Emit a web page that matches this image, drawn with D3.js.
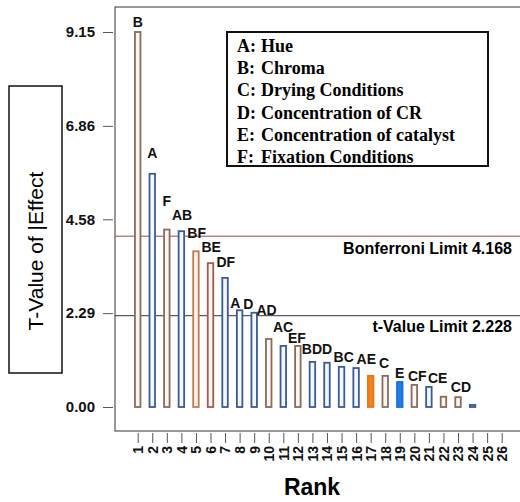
<!DOCTYPE html>
<html>
<head>
<meta charset="utf-8">
<script src="https://cdn.jsdelivr.net/npm/d3@7"></script>
<style>
  body { margin: 0; background: #fff; }
  svg { display: block; font-family: Arial, "Liberation Sans", sans-serif; }
</style>
</head>
<body>
<div id="chart"></div>
<script>
// ranks 1..24 (ticks go to 26)
const ranks = d3.range(1, 25);
const tValues = [9.15, 5.69, 4.33, 4.29, 3.80, 3.51, 3.15, 2.36, 2.30, 1.66, 1.49, 1.49,
                 1.10, 1.08, 0.98, 0.95, 0.76, 0.76, 0.61, 0.54, 0.49, 0.25, 0.24, 0.05];
// bar group: b = brown outline, u = blue outline, o = orange solid, e = blue solid
const groups = ["b","u","b","u","b2","b3","u","u","u","b","u","b",
                "u","u","u","u","o","b","e","b","u","b","b","u"];
const tickRanks = d3.range(1, 27);
const yTicks = [0, 2.29, 4.58, 6.86, 9.15];

// effect labels, placed at (rank, t-value) where they appear in the plot
const effectLabels = ["B","A","F","AB","BF","BE","DF","A","D","AD","AC","EF","BD","D","BC","AE","C","E","CF","CE","CD"];
const labelRanks   = [1, 2, 3, 4.05, 5.05, 6.05, 7.05, 7.7, 8.6, 9.85, 10.98, 11.94, 12.97, 14.0, 15.15, 16.7, 17.92, 19.0, 20.2, 21.6, 23.2];
const labelValues  = [9.39, 6.2, 5.03, 4.69, 4.25, 3.9, 3.54, 2.54, 2.51, 2.37, 1.95, 1.68, 1.42, 1.42, 1.22, 1.17, 1.07, 0.83, 0.76, 0.71, 0.49];

const factorKeys  = ["A:", "B:", "C:", "D:", "E:", "F:"];
const factorNames = ["Hue", "Chroma", "Drying Conditions", "Concentration of CR", "Concentration of catalyst", "Fixation Conditions"];

const bonferroni = 4.168;
const tLimit = 2.228;

const width = 520, height = 502;
const frame = { left: 115, top: 7, right: 530, bottom: 431 };

const svg = d3.select("#chart")
    .append("svg")
    .attr("width", width)
    .attr("height", height);

const x = d3.scalePoint()
    .domain(tickRanks)
    .range([137.7, 501.7]);

const y = d3.scaleLinear()
    .domain([0, 9.15])
    .range([407, 32]);

const colors = {
    b:  { stroke: "#8a6b5c", fill: "#fbf7f3" },
    b2: { stroke: "#c07d55", fill: "#fbf3ec" },
    b3: { stroke: "#9c5e50", fill: "#fbf5f2" },
    u:  { stroke: "#3a5a9a", fill: "#f5f8fd" },
    o:  { stroke: "#e9751a", fill: "#f5821f" },
    e:  { stroke: "#1c6fd6", fill: "#1f7fe8" }
};

// frame
svg.append("rect")
    .attr("x", frame.left)
    .attr("y", frame.top)
    .attr("width", frame.right - frame.left)
    .attr("height", frame.bottom - frame.top)
    .attr("fill", "none")
    .attr("stroke", "#333")
    .attr("stroke-width", 1);

// limit lines
svg.append("line")
    .attr("x1", frame.left).attr("x2", width)
    .attr("y1", y(bonferroni)).attr("y2", y(bonferroni))
    .attr("stroke", "#9a4848").attr("stroke-width", 1);

svg.append("line")
    .attr("x1", frame.left).attr("x2", width)
    .attr("y1", y(tLimit)).attr("y2", y(tLimit))
    .attr("stroke", "#333").attr("stroke-width", 1);

svg.append("text")
    .attr("x", 512).attr("y", y(bonferroni) + 18)
    .attr("text-anchor", "end")
    .style("font-size", "16px").style("font-weight", "bold")
    .text("Bonferroni Limit " + bonferroni);

svg.append("text")
    .attr("x", 512).attr("y", y(tLimit) + 16)
    .attr("text-anchor", "end")
    .style("font-size", "16px").style("font-weight", "bold")
    .text("t-Value Limit " + tLimit);

// bars
const barW = 5.5;
svg.append("g")
    .selectAll("rect")
    .data(ranks)
    .enter()
    .append("rect")
    .attr("x", d => x(d) - barW / 2)
    .attr("y", (d, i) => y(tValues[i]))
    .attr("width", barW)
    .attr("height", (d, i) => y(0) - y(tValues[i]))
    .attr("fill", (d, i) => colors[groups[i]].fill)
    .attr("stroke", (d, i) => colors[groups[i]].stroke)
    .attr("stroke-width", 1.8);

// effect labels
svg.append("g")
    .selectAll("text")
    .data(effectLabels)
    .enter()
    .append("text")
    .attr("x", (d, i) => x(1) + (labelRanks[i] - 1) * x.step())
    .attr("y", (d, i) => y(labelValues[i]))
    .attr("dy", "0.35em")
    .attr("text-anchor", "middle")
    .style("font-size", "14px")
    .style("font-weight", "bold")
    .attr("fill", "#111")
    .text(d => d);

// Eixo Y
const yAxis = svg.append("g")
    .attr("transform", `translate(113,0)`)
    .call(d3.axisLeft(y).tickValues(yTicks).tickFormat(d3.format(".2f")).tickSize(10).tickPadding(8));
yAxis.select(".domain").remove();
yAxis.selectAll("line").attr("stroke", "#555");
yAxis.selectAll("text")
    .style("font-size", "15px")
    .style("font-weight", "bold")
    .style("font-family", "Arial, 'Liberation Sans', sans-serif")
    .attr("fill", "#111");

// Eixo X
const xAxis = svg.append("g")
    .attr("transform", `translate(0,433)`)
    .call(d3.axisBottom(x).tickSize(10));
xAxis.select(".domain").remove();
xAxis.selectAll("line").attr("stroke", "#555");
xAxis.selectAll("text")
    .attr("transform", "rotate(-90)")
    .attr("x", -13)
    .attr("y", 0)
    .attr("dy", "0.35em")
    .style("text-anchor", "end")
    .style("font-size", "14px")
    .style("font-weight", "bold")
    .style("font-family", "Arial, 'Liberation Sans', sans-serif")
    .attr("fill", "#111");

// Rank title
svg.append("text")
    .attr("x", 312).attr("y", 495)
    .attr("text-anchor", "middle")
    .style("font-size", "23px").style("font-weight", "bold")
    .text("Rank");

// y title box
svg.append("rect")
    .attr("x", 9).attr("y", 86)
    .attr("width", 53).attr("height", 287)
    .attr("fill", "none").attr("stroke", "#111").attr("stroke-width", 1.5);

svg.append("text")
    .attr("transform", "translate(36,251) rotate(-90)")
    .attr("text-anchor", "middle")
    .attr("dy", "0.35em")
    .style("font-size", "21px")
    .text("T-Value of |Effect");

// legend box
svg.append("rect")
    .attr("x", 227).attr("y", 32)
    .attr("width", 261).attr("height", 134)
    .attr("fill", "#fff").attr("stroke", "#111").attr("stroke-width", 2);

const legend = svg.append("g")
    .style("font-family", "'Liberation Serif', 'Times New Roman', serif")
    .style("font-size", "18px")
    .style("font-weight", "bold");

legend.selectAll(".key")
    .data(factorKeys)
    .enter()
    .append("text")
    .attr("class", "key")
    .attr("x", 237)
    .attr("y", (d, i) => 52 + i * 22.2)
    .text(d => d);

legend.selectAll(".name")
    .data(factorNames)
    .enter()
    .append("text")
    .attr("class", "name")
    .attr("x", 261)
    .attr("y", (d, i) => 52 + i * 22.2)
    .text(d => d);
</script>
</body>
</html>
